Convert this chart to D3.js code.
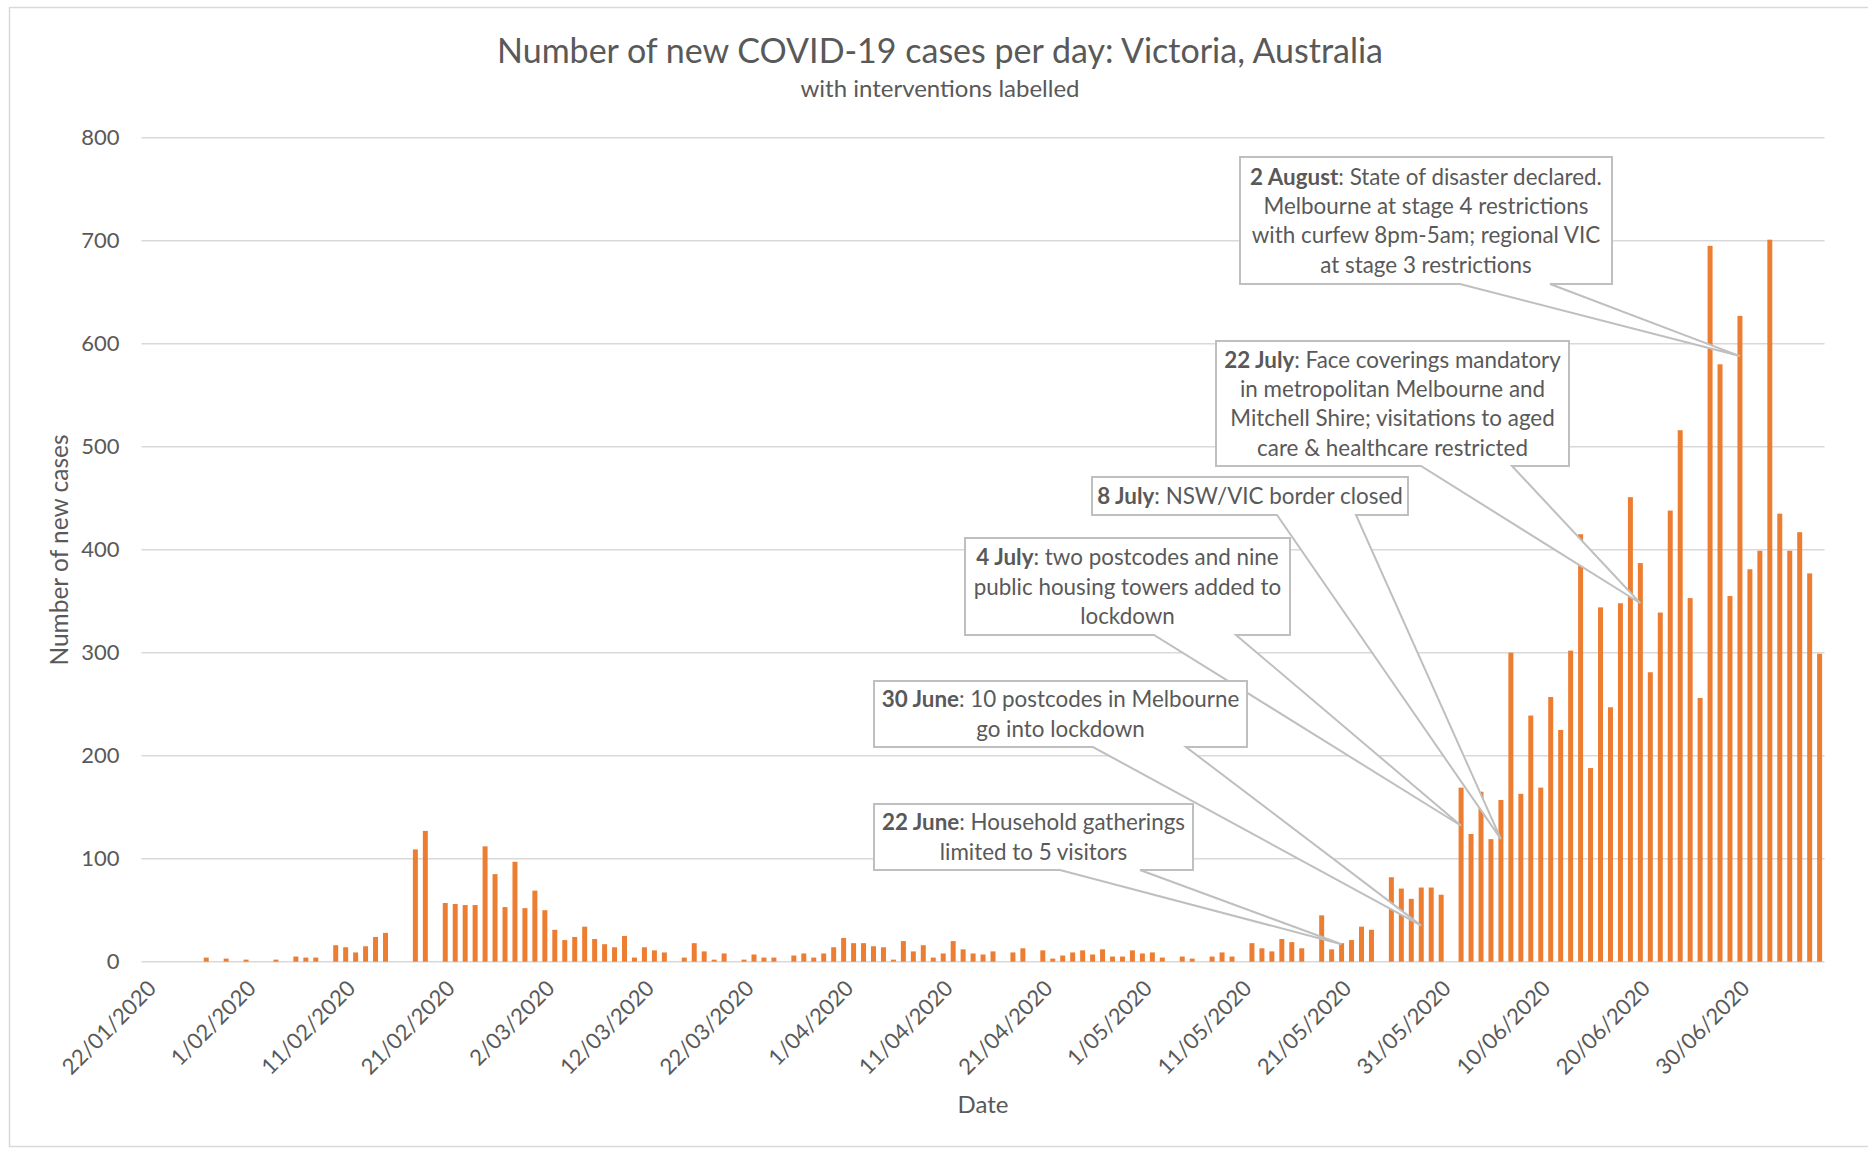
<!DOCTYPE html>
<html>
<head>
<meta charset="utf-8">
<script src="https://cdn.jsdelivr.net/npm/d3@7/dist/d3.min.js"></script>
<style>
  body { margin: 0; background: #fff; }
  svg text { font-family: Lato, "Open Sans", sans-serif; fill: #595959; }
</style>
</head>
<body>
<div id="chart"></div>
<script>
// daily categories, 22/01/2020 onwards (as labelled on the original axis)
const firstDay = new Date(2020, 0, 22);
const dayCount = 169;

// new cases per day
const cases = [
  0, 0, 0, 0, 0, 0, 4, 0, 3, 0,
  2, 0, 0, 2, 0, 5, 4, 4, 0, 16,
  14, 9, 15, 24, 28, 0, 0, 109, 127, 0,
  57, 56, 55, 55, 112, 85, 53, 97, 52, 69,
  50, 31, 21, 24, 34, 22, 17, 14, 25, 4,
  14, 11, 9, 0, 4, 18, 10, 2, 8, 0,
  2, 7, 4, 4, 0, 6, 8, 4, 8, 14,
  23, 18, 18, 15, 14, 2, 20, 10, 16, 4,
  8, 20, 12, 8, 7, 10, 0, 9, 13, 0,
  11, 3, 6, 9, 11, 7, 12, 5, 5, 11,
  8, 9, 4, 0, 5, 3, 0, 5, 9, 5,
  0, 18, 13, 10, 22, 19, 13, 0, 45, 12,
  18, 21, 34, 31, 0, 82, 71, 61, 72, 72,
  65, 0, 169, 124, 165, 119, 157, 300, 163, 239,
  169, 257, 225, 302, 415, 188, 344, 247, 348, 451,
  387, 281, 339, 438, 516, 353, 256, 695, 580, 355,
  627, 381, 399, 701, 435, 399, 417, 377, 299
];

const tickLabels = [
  "22/01/2020", "1/02/2020", "11/02/2020", "21/02/2020", "2/03/2020",
  "12/03/2020", "22/03/2020", "1/04/2020", "11/04/2020", "21/04/2020",
  "1/05/2020", "11/05/2020", "21/05/2020", "31/05/2020", "10/06/2020",
  "20/06/2020", "30/06/2020"
];
const yTicks = [0, 100, 200, 300, 400, 500, 600, 700, 800];

// interventions: bold date, rest of text, bar it points at, value at the arrow tip
const noteDates = ["2 August", "22 July", "8 July", "4 July", "30 June", "22 June"];
const noteLines = [
  [": State of disaster declared.", "Melbourne at stage 4 restrictions", "with curfew 8pm-5am; regional VIC", "at stage 3 restrictions"],
  [": Face coverings mandatory", "in metropolitan Melbourne and", "Mitchell Shire; visitations to aged", "care & healthcare restricted"],
  [": NSW/VIC border closed"],
  [": two postcodes and nine", "public housing towers added to", "lockdown"],
  [": 10 postcodes in Melbourne", "go into lockdown"],
  [": Household gatherings", "limited to 5 visitors"]
];
const noteTargets = ["30/06/2020", "20/06/2020", "6/06/2020", "2/06/2020", "29/05/2020", "21/05/2020"];
const noteTipValues = [588, 348, 119, 132, 35, 17];

// callout box layout (pixels): left, top, right, bottom, wedge base left/right
const noteBoxes = [
  [1240, 157, 1612, 284, 1460, 1550],
  [1216, 341, 1569, 466, 1421, 1512],
  [1092, 477, 1408, 515, 1277, 1356],
  [965, 538, 1290, 635, 1154, 1236],
  [874, 681, 1247, 747, 1093, 1186],
  [874, 804, 1193, 870, 1060, 1140]
];

const fmt = d3.timeFormat("%-d/%m/%Y");
const days = d3.timeDay.range(firstDay, d3.timeDay.offset(firstDay, dayCount)).map(fmt);

const W = 1868, H = 1151;
const margin = {top: 137.7, right: 43.4, bottom: 189.3, left: 141.5};
const width = W - margin.left - margin.right,
    height = H - margin.top - margin.bottom;

const svg = d3.select("#chart").append("svg")
    .attr("width", W)
    .attr("height", H);

// chart area border
svg.append("rect")
    .attr("x", 9.5).attr("y", 7.5)
    .attr("width", W + 20).attr("height", 1139)
    .attr("fill", "none")
    .attr("stroke", "#d9d9d9")
    .attr("stroke-width", 1.5);

svg.append("text")
    .attr("x", 940).attr("y", 63)
    .attr("text-anchor", "middle")
    .style("font-size", "34px")
    .text("Number of new COVID-19 cases per day: Victoria, Australia");

svg.append("text")
    .attr("x", 940).attr("y", 97)
    .attr("text-anchor", "middle")
    .style("font-size", "24px")
    .text("with interventions labelled");

const g = svg.append("g")
    .attr("transform", "translate(" + margin.left + "," + margin.top + ")");

const x = d3.scaleBand()
    .domain(days)
    .range([0, width])
    .paddingInner(0.5)
    .paddingOuter(0.25);

const y = d3.scaleLinear()
    .domain([0, 800])
    .range([height, 0]);

// gridlines
g.append("g")
    .selectAll("line")
    .data(yTicks)
    .join("line")
    .attr("x1", 0).attr("x2", width)
    .attr("y1", d => y(d)).attr("y2", d => y(d))
    .attr("stroke", "#d9d9d9")
    .attr("stroke-width", 1.6);

// y axis labels
const yAxis = g.append("g")
    .call(d3.axisLeft(y).tickValues(yTicks).tickSize(0).tickPadding(22));
yAxis.select(".domain").remove();
yAxis.selectAll("text")
    .style("font-size", "22px")
    .style("fill", "#595959");

// x axis labels
const xAxis = g.append("g")
    .attr("transform", "translate(0," + height + ")")
    .call(d3.axisBottom(x).tickValues(tickLabels).tickSize(0));
xAxis.select(".domain").remove();
xAxis.selectAll("text")
    .attr("text-anchor", "end")
    .attr("dy", 0)
    .attr("transform", "translate(9,26) rotate(-45)")
    .style("font-size", "22px")
    .style("fill", "#595959");

// bars
g.append("g")
    .selectAll("rect")
    .data(cases.map((v, i) => ({day: days[i], value: v})))
    .join("rect")
    .attr("x", d => x(d.day))
    .attr("width", x.bandwidth())
    .attr("y", d => y(d.value))
    .attr("height", d => height - y(d.value))
    .attr("fill", "#ED7D31");

// axis titles
svg.append("text")
    .attr("transform", "translate(68,550) rotate(-90)")
    .attr("text-anchor", "middle")
    .style("font-size", "24.5px")
    .text("Number of new cases");

svg.append("text")
    .attr("x", 983).attr("y", 1113)
    .attr("text-anchor", "middle")
    .style("font-size", "24px")
    .text("Date");

// callouts
const noteSize = 22.4, lineGap = 29.3;
noteDates.forEach((label, i) => {
    let b = noteBoxes[i];
    let tipX = margin.left + x(noteTargets[i]) + x.bandwidth() / 2;
    let tipY = margin.top + y(noteTipValues[i]);
    let path = "M" + b[0] + "," + b[1] + "H" + b[2] + "V" + b[3] +
        "H" + b[5] + "L" + tipX + "," + tipY + "L" + b[4] + "," + b[3] +
        "H" + b[0] + "Z";
    svg.append("path")
        .attr("d", path)
        .attr("fill", "#fff")
        .attr("stroke", "#bfbfbf")
        .attr("stroke-width", 2)
        .attr("stroke-linejoin", "miter");

    let cx = (b[0] + b[2]) / 2;
    let n = noteLines[i].length;
    let first = (b[1] + b[3]) / 2 - (n - 1) / 2 * lineGap + 0.36 * noteSize;
    noteLines[i].forEach((line, j) => {
        let t = svg.append("text")
            .attr("x", cx)
            .attr("y", first + j * lineGap)
            .attr("text-anchor", "middle")
            .style("font-size", noteSize + "px");
        if (j === 0) {
            t.append("tspan").style("font-weight", "bold").text(label);
        }
        t.append("tspan").text(line);
    });
});
</script>
</body>
</html>
